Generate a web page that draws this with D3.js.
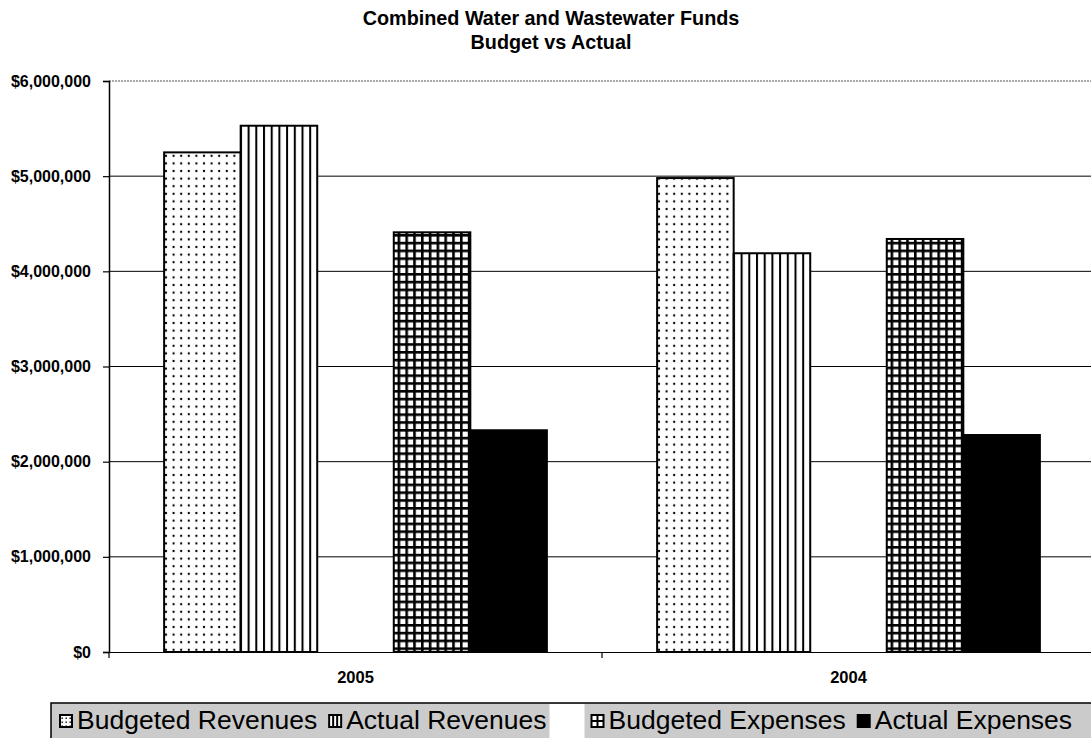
<!DOCTYPE html>
<html><head><meta charset="utf-8">
<script src="https://cdn.jsdelivr.net/npm/d3@7"></script>
<style>body{margin:0;background:#fff;} svg{display:block;font-family:Arial,"Liberation Sans",sans-serif;}</style>
</head><body><svg id="chart" width="1091" height="738"></svg>
<script>
// ---- data ----
const categories = ["2005", "2004"];
const seriesNames = ["Budgeted Revenues", "Actual Revenues", "", "Budgeted Expenses", "Actual Expenses"];
const budgetedRevenues = [5250000, 4980000];
const actualRevenues = [5530000, 4190000];
const emptySeries = [null, null];
const budgetedExpenses = [4410000, 4340000];
const actualExpenses = [2330000, 2280000];
const yTickValues = [0, 1000000, 2000000, 3000000, 4000000, 5000000, 6000000];
const titleLines = ["Combined Water and Wastewater Funds", "Budget vs Actual"];
const seriesFills = ["url(#pDots)", "url(#pVLines)", "none", "url(#pGrid)", "#000"];
const seriesValues = [budgetedRevenues, actualRevenues, emptySeries, budgetedExpenses, actualExpenses];

// ---- layout ----
const svg = d3.select("#chart");
const plot = {left: 109, right: 1095, top: 81, bottom: 652};

// patterns
const defs = svg.append("defs");
const pd = defs.append("pattern").attr("id", "pDots").attr("patternUnits", "userSpaceOnUse")
  .attr("width", 7.6).attr("height", 7.6);
pd.append("rect").attr("width", 7.6).attr("height", 7.6).attr("fill", "#fff");
pd.append("circle").attr("cx", 3.8).attr("cy", 3.8).attr("r", 1.15).attr("fill", "#000");
const pv = defs.append("pattern").attr("id", "pVLines").attr("patternUnits", "userSpaceOnUse")
  .attr("width", 7.7).attr("height", 8);
pv.append("rect").attr("width", 7.7).attr("height", 8).attr("fill", "#fff");
pv.append("rect").attr("x", 0).attr("width", 2).attr("height", 8).attr("fill", "#000");
const pg = defs.append("pattern").attr("id", "pGrid").attr("patternUnits", "userSpaceOnUse")
  .attr("width", 7.8).attr("height", 7.8);
pg.append("rect").attr("width", 7.8).attr("height", 7.8).attr("fill", "#000");
pg.append("rect").attr("x", 2.6).attr("y", 2.6).attr("width", 5.2).attr("height", 5.2).attr("fill", "#fff");
const pdl = defs.append("pattern").attr("id", "pDotsL").attr("patternUnits", "userSpaceOnUse")
  .attr("width", 4).attr("height", 4);
pdl.append("rect").attr("width", 4).attr("height", 4).attr("fill", "#fff");
pdl.append("rect").attr("x", 1.5).attr("y", 1.5).attr("width", 1.4).attr("height", 1.4).attr("fill", "#000");

// scales
const x0 = d3.scaleBand().domain(categories).range([plot.left, plot.right]).paddingInner(0).paddingOuter(0);
const x1 = d3.scaleBand().domain(d3.range(seriesNames.length)).range([0, x0.bandwidth()])
  .paddingInner(0).paddingOuter(0.72);
const y = d3.scaleLinear().domain([0, 6000000]).range([plot.bottom, plot.top]);

// title
svg.append("g").selectAll("text").data(titleLines).join("text")
  .attr("x", 551).attr("y", (d, i) => 25 + i * 24)
  .attr("text-anchor", "middle").attr("font-weight", "bold").attr("font-size", 19.8)
  .text(d => d);

// gridlines
svg.append("g").selectAll("line").data(yTickValues.filter(v => v > 0 && v < 6000000)).join("line")
  .attr("x1", plot.left).attr("x2", plot.right)
  .attr("y1", d => y(d)).attr("y2", d => y(d))
  .attr("stroke", "#000").attr("stroke-width", 1);
// top border
svg.append("line").attr("x1", plot.left).attr("x2", plot.right)
  .attr("y1", y(6000000)).attr("y2", y(6000000))
  .attr("stroke", "#555").attr("stroke-width", 1.2).attr("stroke-dasharray", "2,1");

// bars
const groups = svg.append("g").selectAll("g").data(categories).join("g")
  .attr("transform", d => `translate(${x0(d)},0)`);
groups.selectAll("rect").data((c, ci) => seriesValues.map((arr, si) => ({si, v: arr[ci]})).filter(d => d.v != null))
  .join("rect")
  .attr("x", d => x1(d.si)).attr("width", x1.bandwidth())
  .attr("y", d => y(d.v)).attr("height", d => y(0) - y(d.v))
  .attr("fill", d => seriesFills[d.si]).attr("stroke", "#000").attr("stroke-width", 2);

// y axis
const yAxis = svg.append("g").attr("transform", `translate(${plot.left},0)`)
  .call(d3.axisLeft(y).tickValues(yTickValues).tickSize(6).tickPadding(12)
    .tickFormat(d => "$" + d3.format(",")(d)));
yAxis.select(".domain").attr("stroke", "#000").attr("stroke-width", 1.5);
yAxis.selectAll(".tick line").attr("stroke", "#000").attr("stroke-width", 1.2);
yAxis.selectAll("text").attr("font-size", 16).attr("font-weight", "bold").attr("fill", "#000")
  .attr("font-family", "Arial, 'Liberation Sans', sans-serif");

// x axis
const xAxis = svg.append("g").attr("transform", `translate(0,${plot.bottom})`)
  .call(d3.axisBottom(x0).tickSize(0).tickPadding(19));
xAxis.select(".domain").attr("stroke", "#000").attr("stroke-width", 1.2);
xAxis.selectAll("text").attr("font-size", 16.5).attr("font-weight", "bold").attr("fill", "#000")
  .attr("font-family", "Arial, 'Liberation Sans', sans-serif");
const boundaries = categories.map(c => x0(c)).concat([x0.range()[1]]);
svg.append("g").selectAll("line").data(boundaries).join("line")
  .attr("x1", d => d).attr("x2", d => d).attr("y1", plot.bottom).attr("y2", plot.bottom + 6)
  .attr("stroke", "#000").attr("stroke-width", 1.2);

// legend
const legend = svg.append("g");
legend.append("rect").attr("x", 51).attr("y", 703).attr("width", 1100).attr("height", 60)
  .attr("fill", "#cbcbcb").attr("stroke", "#000").attr("stroke-width", 1.5);
const legendFills = ["url(#pDotsL)", "url(#pVLines)", "none", "url(#pGrid)", "#000"];
let lx = 60;
seriesNames.forEach((name, i) => {
  if (name === "") {
    legend.append("rect").attr("x", lx - 9).attr("y", 704).attr("width", 35).attr("height", 40).attr("fill", "#fff");
    lx += 33;
    return;
  }
  const g = legend.append("g");
  if (i === 1) {
    g.append("rect").attr("x", lx).attr("y", 715).attr("width", 12).attr("height", 12).attr("fill", "#fff").attr("stroke", "#000").attr("stroke-width", 2);
    g.append("line").attr("x1", lx + 4).attr("x2", lx + 4).attr("y1", 715).attr("y2", 727).attr("stroke", "#000").attr("stroke-width", 2);
    g.append("line").attr("x1", lx + 8).attr("x2", lx + 8).attr("y1", 715).attr("y2", 727).attr("stroke", "#000").attr("stroke-width", 2);
  } else if (i === 3) {
    g.append("rect").attr("x", lx).attr("y", 715).attr("width", 12).attr("height", 12).attr("fill", "#fff").attr("stroke", "#000").attr("stroke-width", 2);
    g.append("line").attr("x1", lx + 6).attr("x2", lx + 6).attr("y1", 715).attr("y2", 727).attr("stroke", "#000").attr("stroke-width", 2);
    g.append("line").attr("x1", lx).attr("x2", lx + 12).attr("y1", 721).attr("y2", 721).attr("stroke", "#000").attr("stroke-width", 2);
  } else {
    g.append("rect").attr("x", lx).attr("y", 715).attr("width", 12).attr("height", 12)
      .attr("fill", legendFills[i]).attr("stroke", "#000").attr("stroke-width", 2);
  }
  const t = g.append("text").attr("x", lx + 17).attr("y", 729).attr("font-size", 26.5).attr("fill", "#000").text(name);
  lx = lx + 17 + t.node().getComputedTextLength() + 12;
});
</script>
</body></html>
